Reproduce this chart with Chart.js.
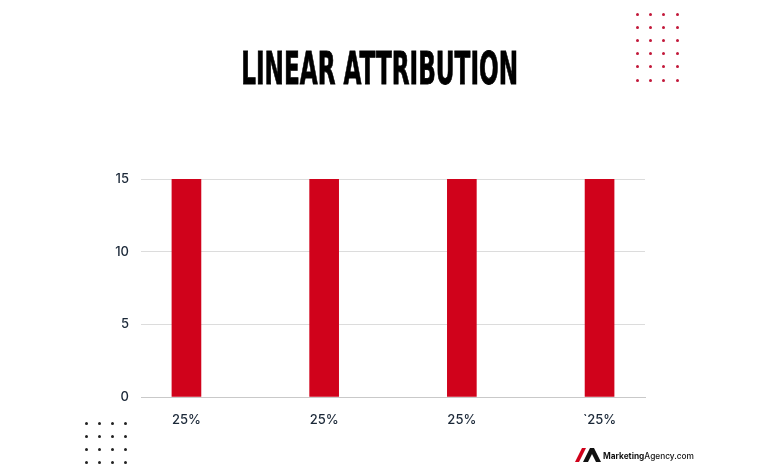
<!DOCTYPE html>
<html>
<head>
<meta charset="utf-8">
<script src="https://cdn.jsdelivr.net/npm/chart.js"></script>
<style>
  body { margin: 0; background: #fff; }
  #wrap { position: relative; width: 759px; height: 468px; overflow: hidden; }
  #chart { position: absolute; left: 0; top: 0; }
  #title {
    position: absolute; left: 0; top: 43px; width: 759px; text-align: center;
    font-family: "Liberation Sans Narrow", "DejaVu Sans Condensed", "DejaVu Sans", sans-serif;
    font-weight: 900; font-size: 44px; color: #000; white-space: nowrap;
  }
  #title span { display: inline-block; transform-origin: center; -webkit-text-stroke: 0.8px #000; }
  .dots { position: absolute; }
  .dot { position: absolute; width: 3px; height: 3px; border-radius: 50%; }
  #logo { position: absolute; left: 574px; top: 446px; }
</style>
</head>
<body>
<div id="wrap">
  <canvas id="chart" width="759" height="468"></canvas>
  <div id="title"><span>LINEAR ATTRIBUTION</span></div>
  <div id="dotsTop" class="dots"></div>
  <div id="dotsBottom" class="dots"></div>
  <svg id="logo" width="120" height="18" viewBox="0 0 120 18">
    <polygon points="1,16 8,2 12,2 5,16" fill="#d0021b"/>
    <polygon points="9,16 16,2 20,2 27,16 22,16 18,8 14,16" fill="#111"/>
    <text x="29" y="12.5" font-family="Inter, 'DejaVu Sans', sans-serif" font-size="8.3" fill="#111"><tspan font-weight="700">Marketing</tspan><tspan font-weight="500">Agency.com</tspan></text>
  </svg>
</div>
<script>
// Chart data
const categories = ["25%", "25%", "25%", "`25%"];
const values = [15, 15, 15, 15];
const yTicks = [0, 5, 10, 15];

// Title: squeeze to the width of the condensed reference font
const titleSpan = document.querySelector("#title span");
const w = titleSpan.getBoundingClientRect().width;
titleSpan.style.transform = "scaleX(" + (277 / w).toFixed(3) + ")";

// Decorative dot grids
function dotGrid(el, x0, y0, cols, rows, step, color) {
    for (let r = 0; r < rows; r++) {
        for (let c = 0; c < cols; c++) {
            const d = document.createElement("div");
            d.className = "dot";
            d.style.left = (x0 + c * step - 1.5) + "px";
            d.style.top = (y0 + r * step - 1.5) + "px";
            d.style.background = color;
            el.appendChild(d);
        }
    }
}
dotGrid(document.getElementById("dotsTop"), 637.5, 14, 4, 6, 13.2, "#c2183a");
dotGrid(document.getElementById("dotsBottom"), 86, 423, 4, 4, 13, "#222");

new Chart(document.getElementById("chart").getContext("2d"), {
    type: "bar",
    data: {
        datasets: [{
            data: values.map((v, i) => ({ x: i, y: v })),
            backgroundColor: "#d0021b",
            barThickness: 29
        }]
    },
    options: {
        responsive: false,
        animation: false,
        layout: { padding: { top: 179, right: 114, bottom: 41, left: 0 } },
        plugins: { legend: { display: false }, tooltip: { enabled: false } },
        scales: {
            x: {
                type: "linear",
                offset: false,
                min: -0.33,
                max: 3.33,
                afterBuildTicks: s => { s.ticks = categories.map((c, i) => ({ value: i })); },
                afterFit: s => { s.height = 30; },
                grid: { display: false },
                border: { display: true, color: "#c9c9c9" },
                ticks: {
                    padding: 7,
                    color: "#1b2838",
                    font: { family: "Inter", size: 13, weight: 500 },
                    callback: (v) => categories[v]
                }
            },
            y: {
                min: 0,
                max: 15,
                afterBuildTicks: s => { s.ticks = yTicks.map(v => ({ value: v })); },
                afterFit: s => { s.width = 141; },
                grid: { color: "#dcdcdc", drawTicks: false },
                border: { display: false },
                ticks: {
                    padding: 12,
                    color: "#1b2838",
                    font: { family: "Inter", size: 13, weight: 500 }
                }
            }
        }
    }
});
</script>
</body>
</html>
